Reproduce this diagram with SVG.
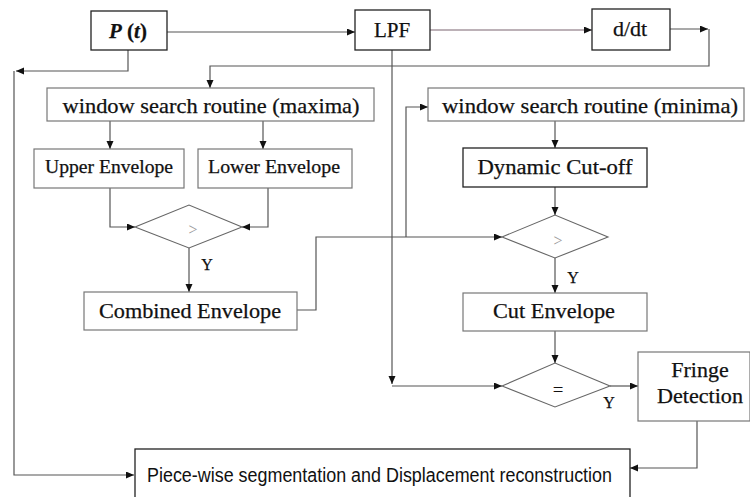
<svg xmlns="http://www.w3.org/2000/svg" width="750" height="497" viewBox="0 0 750 497">
<style>
  .box { fill: #fff; stroke: #777; stroke-width: 1.2; }
  .dark { stroke: #222; stroke-width: 1.3; }
  .dia { fill: #fff; stroke: #666; stroke-width: 1.1; }
  .ln { fill: none; stroke: #555; stroke-width: 1.2; }
  .t { font-family: "Liberation Serif", "Times New Roman", serif; fill: #111; text-anchor: middle; stroke: #111; stroke-width: 0.25; }
  .s { font-family: "Liberation Sans", Arial, sans-serif; fill: #111; }
  .g { fill: #999; stroke: none; }
</style>
<defs>
  <marker id="ah" markerUnits="userSpaceOnUse" markerWidth="9" markerHeight="8" refX="8" refY="3.5" orient="auto">
    <path d="M0,0 L8,3.5 L0,7 z" fill="#111"/>
  </marker>
</defs>
<rect width="750" height="497" fill="#fff"/>

<g id="connectors">
  <path class="ln" d="M167,32 H355" marker-end="url(#ah)"/>
  <path class="ln" d="M430,30 H592" style="stroke:#7a6470" marker-end="url(#ah)"/>
  <path class="ln" d="M670,29 H708" marker-end="url(#ah)"/>
  <path class="ln" d="M709,29 V66 H210 V88" marker-end="url(#ah)"/>
  <path class="ln" d="M128,50 V71 H16" marker-end="url(#ah)"/>
  <path class="ln" d="M14,71 V475 H134" marker-end="url(#ah)"/>
  <path class="ln" d="M110,121 V149" marker-end="url(#ah)"/>
  <path class="ln" d="M263,121 V149" marker-end="url(#ah)"/>
  <path class="ln" d="M110,188 V227 H135" marker-end="url(#ah)"/>
  <path class="ln" d="M268,188 V227 H242" marker-end="url(#ah)"/>
  <path class="ln" d="M189,248 V292" marker-end="url(#ah)"/>
  <path class="ln" d="M297,310 H316 V237 H502" marker-end="url(#ah)"/>
  <path class="ln" d="M406,237 V107 H428" marker-end="url(#ah)"/>
  <path class="ln" d="M392,50 V384" marker-end="url(#ah)"/>
  <path class="ln" d="M392,386 H502" marker-end="url(#ah)"/>
  <path class="ln" d="M555,121 V148" marker-end="url(#ah)"/>
  <path class="ln" d="M555,187 V215" marker-end="url(#ah)"/>
  <path class="ln" d="M555,258 V293" marker-end="url(#ah)"/>
  <path class="ln" d="M555,331 V363" marker-end="url(#ah)"/>
  <path class="ln" d="M610,386 H638" marker-end="url(#ah)"/>
  <path class="ln" d="M697,421 V468 H630" marker-end="url(#ah)"/>
</g>

<g id="pt">
  <rect class="box dark" x="91" y="11" width="76" height="39"/>
  <text class="t" x="128" y="38" font-size="21" font-weight="bold"><tspan font-style="italic">P</tspan> (<tspan font-style="italic">t</tspan>)</text>
</g>
<g id="lpf">
  <rect class="box dark" x="355" y="10" width="75" height="40"/>
  <text class="t" x="392" y="37" font-size="21">LPF</text>
</g>
<g id="ddt">
  <rect class="box dark" x="592" y="9" width="78" height="41"/>
  <text class="t" x="630" y="36" font-size="22">d/dt</text>
</g>
<g id="maxima">
  <rect class="box" x="47" y="88" width="327" height="33"/>
  <text class="t" x="211" y="113" font-size="21" textLength="297" lengthAdjust="spacingAndGlyphs">window search routine (maxima)</text>
</g>
<g id="minima">
  <rect class="box" x="428" y="88" width="316" height="33"/>
  <text class="t" x="590" y="113" font-size="21" textLength="296" lengthAdjust="spacingAndGlyphs">window search routine (minima)</text>
</g>
<g id="upper">
  <rect class="box" x="34" y="149" width="150" height="39"/>
  <text class="t" x="109" y="173" font-size="19" textLength="128" lengthAdjust="spacingAndGlyphs">Upper Envelope</text>
</g>
<g id="lower">
  <rect class="box" x="198" y="149" width="154" height="39"/>
  <text class="t" x="274" y="173" font-size="19" textLength="132" lengthAdjust="spacingAndGlyphs">Lower Envelope</text>
</g>
<g id="gt1">
  <polygon class="dia" points="135,227 189,205 242,227 189,248"/>
  <text class="t g" x="193" y="235" font-size="16">&gt;</text>
</g>
<g id="combined">
  <rect class="box" x="84" y="292" width="213" height="38"/>
  <text class="t" x="190" y="318" font-size="21" textLength="182" lengthAdjust="spacingAndGlyphs">Combined Envelope</text>
</g>
<g id="dynamic">
  <rect class="box dark" x="463" y="148" width="184" height="39"/>
  <text class="t" x="555" y="174" font-size="20" textLength="155" lengthAdjust="spacingAndGlyphs">Dynamic Cut-off</text>
</g>
<g id="gt2">
  <polygon class="dia" points="502,237 555,215 608,237 555,258"/>
  <text class="t g" x="558" y="246" font-size="16">&gt;</text>
</g>
<g id="cut">
  <rect class="box" x="463" y="293" width="184" height="38"/>
  <text class="t" x="554" y="318" font-size="21" textLength="122" lengthAdjust="spacingAndGlyphs">Cut Envelope</text>
</g>
<g id="eq">
  <polygon class="dia" points="502,386 555,363 610,386 555,407"/>
  <text class="t" x="558" y="396" font-size="18">=</text>
</g>
<g id="fringe">
  <rect class="box" x="638" y="352" width="112" height="69"/>
  <text class="t" x="700" y="377" font-size="22">Fringe</text>
  <text class="t" x="700" y="403" font-size="21" textLength="86" lengthAdjust="spacingAndGlyphs">Detection</text>
</g>
<g id="piecewise">
  <rect class="box dark" x="135" y="449" width="495" height="60"/>
  <text class="s" x="147" y="482" font-size="20" textLength="465" lengthAdjust="spacingAndGlyphs">Piece-wise segmentation and Displacement reconstruction</text>
</g>
<g id="labels">
  <text class="t" x="207" y="270" font-size="16">Y</text>
  <text class="t" x="573" y="283" font-size="16">Y</text>
  <text class="t" x="609" y="408" font-size="16">Y</text>
</g>
</svg>
